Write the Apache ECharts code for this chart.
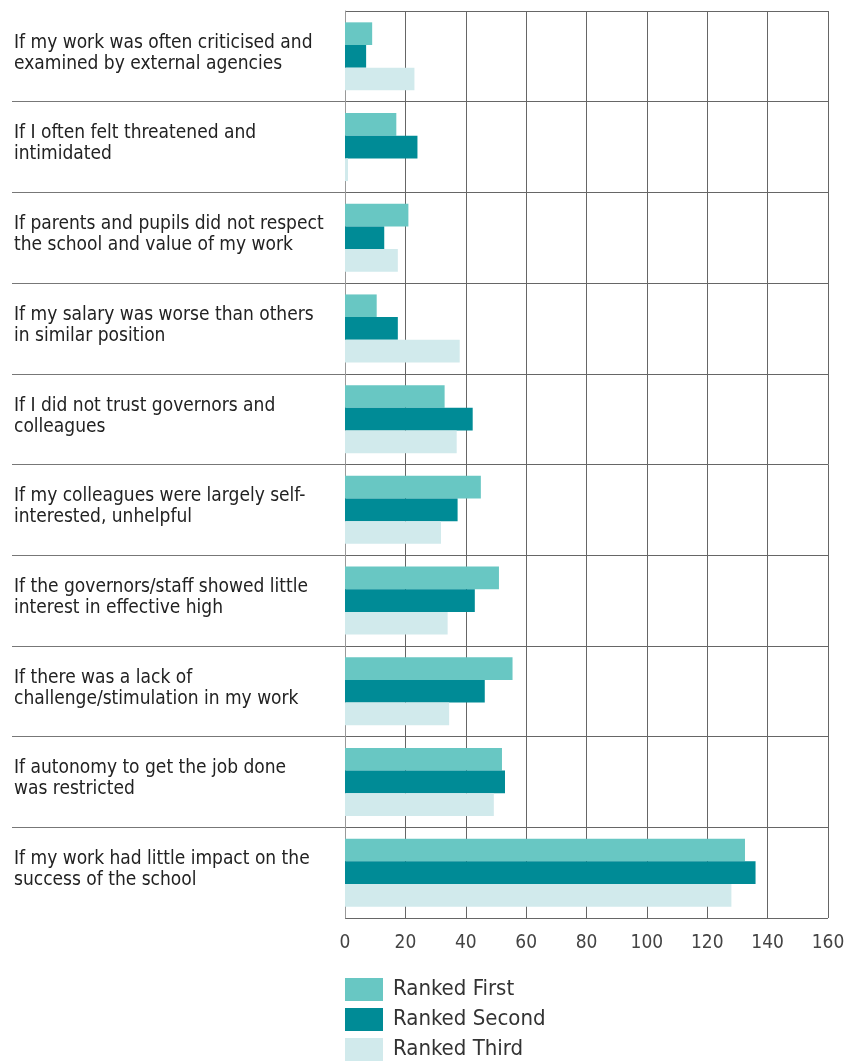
<!DOCTYPE html>
<html>
<head>
<meta charset="utf-8">
<script src="https://cdn.jsdelivr.net/npm/echarts@6/dist/echarts.min.js"></script>
<style>
  html, body { margin: 0; padding: 0; background: #fff; }
  #chart { width: 845px; height: 1064px; }
</style>
</head>
<body>
<div id="chart"></div>
<script>
// categories, top to bottom
const reasons = [
  "If my work was often criticised and\nexamined by external agencies",
  "If I often felt threatened and\nintimidated",
  "If parents and pupils did not respect\nthe school and value of my work",
  "If my salary was worse than others\nin similar position",
  "If I did not trust governors and\ncolleagues",
  "If my colleagues were largely self-\ninterested, unhelpful",
  "If the governors/staff showed little\ninterest in effective high",
  "If there was a lack of\nchallenge/stimulation in my work",
  "If autonomy to get the job done\nwas restricted",
  "If my work had little impact on the\nsuccess of the school"
];
const rankedFirst = [9, 17, 21, 10.5, 33, 45, 51, 55.5, 52, 132.5];
const rankedSecond = [7, 24, 13, 17.5, 42.3, 37.3, 43, 46.3, 53, 136];
const rankedThird = [23, 1, 17.5, 38, 37, 31.8, 34, 34.5, 49.3, 128];
const seriesNames = ["Ranked First", "Ranked Second", "Ranked Third"];
const xTicks = [0, 20, 40, 60, 80, 100, 120, 140, 160];

const chart = echarts.init(document.getElementById("chart"));
const font = '"DejaVu Sans Condensed", Roboto, sans-serif';

const option = {
  animation: false,
  color: ["#68C7C3", "#008B96", "#D1EAEC"],
  grid: { left: 345, right: 17, top: 11, bottom: 146, outerBoundsMode: "none" },
  legend: {
    orient: "vertical",
    left: 345,
    top: 978,
    padding: 0,
    icon: "rect",
    itemWidth: 38,
    itemHeight: 23,
    itemGap: 7,
    data: seriesNames,
    textStyle: { fontFamily: font, fontSize: 22, color: "#333", padding: [0, 0, 0, 5] }
  },
  xAxis: {
    type: "value",
    min: xTicks[0],
    max: xTicks[xTicks.length - 1],
    interval: 20,
    axisLine: { show: false },
    axisTick: { show: false },
    axisLabel: { fontFamily: font, fontSize: 19, color: "#444", margin: 16 },
    splitLine: { lineStyle: { color: "#666", width: 1 } }
  },
  yAxis: [
    {
      type: "category",
      inverse: true,
      data: reasons,
      axisLine: { lineStyle: { color: "#999", width: 1 } },
      axisTick: { show: false },
      axisLabel: {
        align: "left",
        margin: 331,
        fontFamily: font,
        fontSize: 19,
        lineHeight: 21,
        color: "#222",
        // small empty line underneath lifts the two text lines a little
        formatter: (v) => v + "\n{gap| }",
        rich: { gap: { fontSize: 2, lineHeight: 6 } }
      },
      splitLine: { show: true, lineStyle: { color: "#666", width: 1 } }
    },
    {
      // row separators that run under the labels
      type: "value",
      inverse: true,
      min: 0,
      max: reasons.length,
      interval: 1,
      position: "left",
      axisLine: { show: false },
      axisLabel: { show: false },
      splitLine: { show: false },
      axisTick: {
        show: true,
        length: 333,
        customValues: reasons.slice(1).map((_, i) => i + 1),
        lineStyle: { color: "#777", width: 1 }
      }
    }
  ],
  series: [
    { name: seriesNames[0], type: "bar", data: rankedFirst, barGap: "0%", barCategoryGap: "25%" },
    { name: seriesNames[1], type: "bar", data: rankedSecond, barGap: "0%", barCategoryGap: "25%" },
    { name: seriesNames[2], type: "bar", data: rankedThird, barGap: "0%", barCategoryGap: "25%" }
  ]
};

chart.setOption(option);
</script>
</body>
</html>
